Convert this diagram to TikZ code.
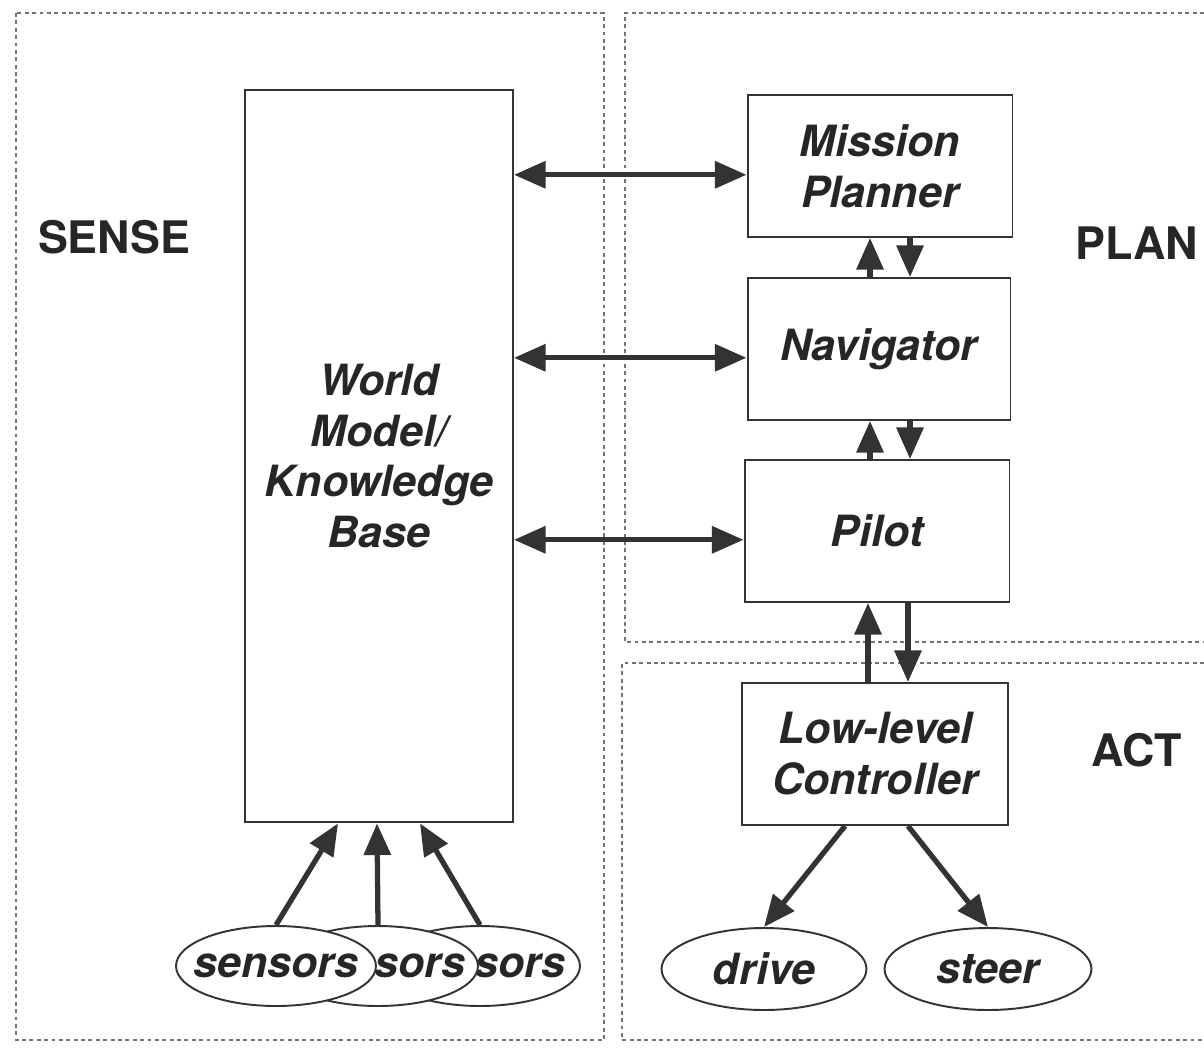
\documentclass[tikz,border=0pt]{standalone}
\usepackage{fontspec}
\setsansfont{TeX Gyre Heros}
\usetikzlibrary{arrows.meta,shapes.geometric}

\begin{document}
\begin{tikzpicture}[x=0.02cm,y=-0.02cm,>={Triangle[length=18pt,width=15pt]},
  box/.style={rectangle,draw=black!80,line width=1.1pt,fill=white,align=center,
    text=black!85,font=\sffamily\bfseries\itshape\fontsize{24.5}{29}\selectfont},
  oval/.style={ellipse,draw=black!80,line width=1.1pt,fill=white,inner xsep=-0.4cm,
    minimum width=4cm,minimum height=1.6cm,
    text=black!85,font=\sffamily\bfseries\itshape\fontsize{24.5}{29}\selectfont},
  ovaltext/.style={text=black!85,font=\sffamily\bfseries\itshape\fontsize{24.5}{29}\selectfont},
  region/.style={draw=black!55,line width=1pt,dash pattern=on 2.2pt off 2pt},
  tag/.style={text=black!85,font=\sffamily\bfseries\fontsize{25.5}{30}\selectfont},
  flow/.style={draw=black!80,line width=3pt}]

  \useasboundingbox (0,0) rectangle (1204,1049);

  \draw[region] (16,13) rectangle (604,1040);
  \draw[region] (1204,13) -- (625,13) -- (625,642) -- (1204,642);
  \draw[region] (1204,663) -- (622,663) -- (622,1040) -- (1204,1040);

  \node[tag] (sense) at (114,237) {SENSE};
  \node[tag] (plan) at (1137,243) {PLAN};
  \node[tag] (act) at (1137,750) {ACT};

  \node[box,minimum width=5.36cm,minimum height=14.66cm] (wm) at (379,456)
    {World\\Model/\\Knowledge\\Base};
  \node[box,minimum width=5.3cm,minimum height=2.84cm] (mission) at (880,166)
    {Mission\\Planner};
  \node[box,minimum width=5.26cm,minimum height=2.84cm] (nav) at (879,349) {Navigator};
  \node[box,minimum width=5.3cm,minimum height=2.84cm] (pilot) at (877,531) {Pilot};
  \node[box,minimum width=5.32cm,minimum height=2.84cm] (llc) at (875,754)
    {Low-level\\Controller};

  \node[oval] (sens3) at (480,966) {};
  \node[ovaltext] at (520,966) {sors};
  \node[oval] (sens2) at (378,966) {};
  \node[ovaltext] at (420,966) {sors};
  \node[oval] (sens1) at (276,966) {sensors};

  \node[oval,minimum width=4.1cm,minimum height=1.64cm] (drive) at (764,969) {drive};
  \node[oval,minimum width=4.14cm,minimum height=1.64cm] (steer) at (988,969) {steer};

  \path[every edge/.style={flow,<->}]
    ([yshift=-5pt]mission.west -| wm.east) edge ([yshift=-5pt]mission.west)
    ([yshift=-5pt]nav.west -| wm.east) edge ([yshift=-5pt]nav.west)
    ([yshift=-5pt]pilot.west -| wm.east) edge ([yshift=-5pt]pilot.west);

  \path[every edge/.style={flow,->}]
    (870,0 |- nav.north) edge (870,0 |- mission.south)
    (910,0 |- mission.south) edge (910,0 |- nav.north)
    (870,0 |- pilot.north) edge (870,0 |- nav.south)
    (910,0 |- nav.south) edge (910,0 |- pilot.north)
    (868,0 |- llc.north) edge (868,0 |- pilot.south)
    (908,0 |- pilot.south) edge (908,0 |- llc.north)
    (sens1.north) edge (338,0 |- wm.south)
    (sens2.north) edge (377,0 |- wm.south)
    (sens3.north) edge (420,0 |- wm.south)
    (845,0 |- llc.south) edge (drive.north)
    (908,0 |- llc.south) edge (steer.north);

\end{tikzpicture}
\end{document}
